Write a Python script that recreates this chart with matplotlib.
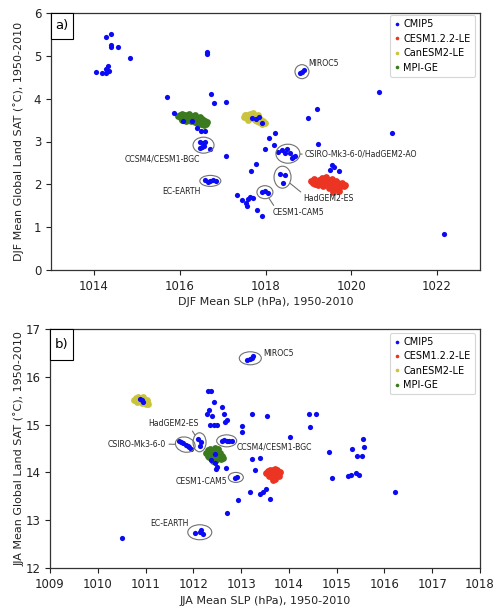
import matplotlib
matplotlib.use('Agg')
import matplotlib.pyplot as plt
from matplotlib.patches import Ellipse, Rectangle
from matplotlib.lines import Line2D
import numpy as np

# ---------------- Panel a (DJF) data: (SLP hPa, SAT degC) ----------------
A_CMIP5_OTHER = [
    (1014.04, 4.63), (1014.18, 4.61), (1014.28, 4.61), (1014.36, 4.65), (1014.34, 4.77), (1014.29, 4.69),
    (1014.28, 5.45), (1014.39, 5.51), (1014.39, 5.26), (1014.39, 5.20), (1014.56, 5.20), (1014.85, 4.94),
    (1015.70, 4.05), (1015.87, 3.66), (1016.07, 3.48), (1016.29, 3.48), (1016.41, 3.32), (1016.50, 3.25),
    (1016.60, 3.25), (1016.63, 5.04), (1016.64, 5.09), (1016.73, 4.10), (1016.81, 3.91), (1017.07, 3.92),
    (1017.08, 2.65), (1017.68, 3.56), (1017.78, 3.52), (1017.84, 3.57), (1017.93, 3.43),
    (1018.21, 3.21), (1018.07, 3.08), (1018.19, 2.91), (1017.99, 2.82), (1017.79, 2.48), (1017.66, 2.30),
    (1019.22, 2.94), (1019.55, 2.44), (1019.51, 2.34), (1019.71, 2.31), (1019.59, 2.41),
    (1017.33, 1.74), (1017.46, 1.64), (1017.54, 1.56), (1017.60, 1.65), (1017.64, 1.70), (1017.71, 1.67),
    (1017.57, 1.50), (1017.80, 1.39), (1017.92, 1.27),
    (1020.64, 4.15), (1019.20, 3.75), (1018.99, 3.54), (1020.95, 3.19), (1022.15, 0.84),
]
A_MIROC5 = [(1018.85, 4.63), (1018.89, 4.66), (1018.81, 4.60)]
A_CCSM4 = [(1016.48, 3.00), (1016.55, 2.96), (1016.51, 2.88), (1016.47, 2.85), (1016.57, 2.90),
           (1016.71, 2.83), (1016.60, 2.98)]
A_ECEARTH = [(1016.59, 2.09), (1016.70, 2.07), (1016.78, 2.10), (1016.85, 2.08), (1016.65, 2.06)]
A_CSIRO = [(1018.30, 2.76), (1018.38, 2.80), (1018.46, 2.72), (1018.50, 2.82), (1018.58, 2.72),
           (1018.65, 2.64), (1018.69, 2.65), (1018.62, 2.61)]
A_HADGEM2ES = [(1018.33, 2.24), (1018.46, 2.22), (1018.40, 2.04)]
A_CESM1CAM5 = [(1017.92, 1.81), (1017.99, 1.85), (1018.05, 1.79)]

A_CESM122LE = [
    (1019.05, 2.08), (1019.10, 2.02), (1019.12, 2.12), (1019.18, 2.05), (1019.22, 1.98), (1019.25, 2.10),
    (1019.28, 2.03), (1019.32, 2.15), (1019.35, 1.95), (1019.38, 2.07), (1019.40, 2.00), (1019.42, 2.18),
    (1019.45, 2.10), (1019.48, 1.92), (1019.50, 2.03), (1019.52, 1.97), (1019.55, 2.12), (1019.58, 2.05),
    (1019.60, 1.88), (1019.62, 1.98), (1019.65, 2.08), (1019.68, 1.93), (1019.70, 2.02), (1019.72, 1.85),
    (1019.75, 1.97), (1019.78, 2.04), (1019.82, 1.95), (1019.86, 1.98), (1019.30, 2.06), (1019.45, 2.03),
    (1019.58, 1.82), (1019.15, 2.00), (1019.36, 2.12), (1019.52, 2.08), (1019.64, 2.02), (1019.40, 2.04),
]
A_CANESM2LE = [
    (1017.50, 3.58), (1017.55, 3.62), (1017.58, 3.55), (1017.62, 3.60), (1017.65, 3.64), (1017.68, 3.54),
    (1017.72, 3.60), (1017.75, 3.50), (1017.78, 3.58), (1017.80, 3.47), (1017.83, 3.55), (1017.86, 3.45),
    (1017.88, 3.52), (1017.92, 3.42), (1017.95, 3.48), (1017.98, 3.44), (1017.60, 3.50), (1017.70, 3.66),
    (1017.82, 3.62), (1017.52, 3.63),
]
A_MPIGE = [
    (1015.95, 3.60), (1016.00, 3.62), (1016.02, 3.55), (1016.05, 3.65), (1016.08, 3.58), (1016.10, 3.52),
    (1016.12, 3.63), (1016.15, 3.56), (1016.18, 3.60), (1016.20, 3.50), (1016.22, 3.64), (1016.25, 3.55),
    (1016.27, 3.47), (1016.30, 3.60), (1016.32, 3.52), (1016.35, 3.45), (1016.37, 3.57), (1016.40, 3.50),
    (1016.42, 3.42), (1016.45, 3.55), (1016.47, 3.47), (1016.50, 3.40), (1016.52, 3.52), (1016.55, 3.45),
    (1016.57, 3.38), (1016.60, 3.48), (1016.62, 3.42), (1016.64, 3.45), (1016.15, 3.48), (1016.35, 3.62),
    (1016.48, 3.58), (1016.05, 3.50), (1016.28, 3.54), (1016.42, 3.52), (1016.10, 3.60), (1016.55, 3.50),
]

# ---------------- Panel b (JJA) data ----------------
B_CMIP5_OTHER = [
    (1010.92, 15.51), (1010.95, 15.48), (1010.89, 15.53),
    (1012.31, 15.71), (1012.36, 15.70), (1012.44, 15.48), (1012.61, 15.37), (1012.33, 15.31),
    (1012.29, 15.22), (1012.40, 15.18), (1012.64, 15.22), (1012.70, 15.10), (1012.66, 15.05),
    (1012.35, 14.99), (1012.43, 14.99), (1012.49, 14.99), (1013.02, 14.98), (1013.01, 14.85),
    (1013.23, 15.22), (1013.55, 15.17), (1014.02, 14.75), (1014.42, 15.22), (1014.56, 15.22),
    (1014.45, 14.94), (1013.22, 14.29), (1013.39, 14.31), (1013.29, 14.05),
    (1012.45, 14.38), (1012.38, 14.26), (1012.45, 14.19), (1012.50, 14.12), (1012.68, 14.10), (1012.48, 14.08),
    (1010.50, 12.62), (1012.71, 13.16), (1012.93, 13.42), (1013.18, 13.58),
    (1014.84, 14.42), (1015.32, 14.48), (1015.42, 14.35), (1015.52, 14.35), (1015.55, 14.69), (1015.57, 14.53),
    (1014.91, 13.88), (1015.24, 13.92), (1015.29, 13.95), (1015.40, 13.98), (1015.47, 13.95), (1016.23, 13.60),
    (1013.53, 13.65), (1013.39, 13.55), (1013.45, 13.58), (1013.60, 13.44),
]
B_MIROC5 = [(1013.12, 16.35), (1013.22, 16.39), (1013.25, 16.44), (1013.18, 16.37)]
B_CSIRO = [(1011.70, 14.66), (1011.78, 14.62), (1011.85, 14.57), (1011.91, 14.53), (1011.96, 14.50),
           (1011.74, 14.64), (1011.88, 14.55)]
B_HADGEM2ES = [(1012.10, 14.70), (1012.15, 14.64), (1012.14, 14.55)]
B_CCSM4 = [(1012.59, 14.66), (1012.70, 14.66), (1012.80, 14.66), (1012.65, 14.67), (1012.75, 14.65)]
B_CESM1CAM5 = [(1012.87, 13.88), (1012.91, 13.91)]
B_ECEARTH = [(1012.03, 12.73), (1012.14, 12.76), (1012.21, 12.71), (1012.16, 12.79)]

B_CESM122LE = [
    (1013.53, 13.98), (1013.56, 14.03), (1013.58, 13.93), (1013.60, 14.06), (1013.62, 13.99), (1013.64, 13.90),
    (1013.66, 14.04), (1013.68, 13.96), (1013.70, 13.87), (1013.72, 14.02), (1013.74, 13.95), (1013.76, 14.05),
    (1013.78, 13.98), (1013.80, 13.93), (1013.82, 14.00), (1013.60, 13.97), (1013.70, 14.08), (1013.67, 13.85),
]
B_CANESM2LE = [
    (1010.76, 15.52), (1010.80, 15.56), (1010.82, 15.48), (1010.85, 15.58), (1010.88, 15.50), (1010.90, 15.55),
    (1010.92, 15.45), (1010.95, 15.52), (1010.98, 15.47), (1011.00, 15.43), (1011.03, 15.48), (1011.06, 15.44),
    (1010.86, 15.54), (1010.94, 15.57), (1011.02, 15.52),
]
B_MPIGE = [
    (1012.27, 14.40), (1012.30, 14.47), (1012.32, 14.33), (1012.35, 14.50), (1012.38, 14.42), (1012.40, 14.28),
    (1012.42, 14.47), (1012.45, 14.36), (1012.47, 14.25), (1012.50, 14.44), (1012.52, 14.32), (1012.55, 14.40),
    (1012.57, 14.27), (1012.60, 14.35), (1012.62, 14.30), (1012.35, 14.38), (1012.45, 14.52), (1012.52, 14.48),
    (1012.30, 14.35), (1012.42, 14.23),
]

LEGEND_LABELS = ['CMIP5', 'CESM1.2.2-LE', 'CanESM2-LE', 'MPI-GE']
A_XTICKS = [1014, 1016, 1018, 1020, 1022]
A_YTICKS = [0, 1, 2, 3, 4, 5, 6]
B_XTICKS = [1009, 1010, 1011, 1012, 1013, 1014, 1015, 1016, 1017, 1018]
B_YTICKS = [12, 13, 14, 15, 16, 17]

# ---------------- styling ----------------
C_BLUE = '#0a0af5'
C_RED = '#ec3423'
C_YEL = '#c9c43c'
C_GRN = '#3b7a1f'
ELL_COL = '#707070'
FS_TICK = 8.5
FS_LAB = 8
FS_ANN = 5.6

W, H, DPI = 4.95, 6.08, 100
fig = plt.figure(figsize=(W, H), dpi=DPI)

def px_axes(l, t, r, b):
    return [l / 495, 1 - b / 608, (r - l) / 495, (b - t) / 608]

ax_a = fig.add_axes(px_axes(51, 13, 480, 270))
ax_b = fig.add_axes(px_axes(50, 329, 480, 568))


def arr(pts):
    a = np.array(pts)
    return a[:, 0], a[:, 1]


def draw_panel(ax, groups_blue, red, yel, grn, xlim, ylim, xticks, yticks, xlabel, ylabel,
               panel_label, box_px, xlab_y, ylab_x, legend_anchor):
    ax.set_xlim(*xlim)
    ax.set_ylim(*ylim)
    for pts, col in ((red, C_RED), (yel, C_YEL), (grn, C_GRN)):
        x, y = arr(pts)
        ax.scatter(x, y, s=24, c=col, linewidths=0, zorder=2)
    allblue = [p for g in groups_blue for p in g]
    x, y = arr(allblue)
    ax.scatter(x, y, s=14, c=C_BLUE, linewidths=0, zorder=3)

    ax.set_xticks(xticks)
    ax.set_yticks(yticks)
    ax.tick_params(direction='out', length=3.5, width=0.8, labelsize=FS_TICK, colors='#222222')
    for s in ax.spines.values():
        s.set_linewidth(0.9)
        s.set_color('#333333')
    ax.set_xlabel(xlabel, fontsize=FS_LAB, color='#222222')
    ax.set_ylabel(ylabel, fontsize=FS_LAB, color='#222222')
    ax.xaxis.set_label_coords(0.5, xlab_y)
    ax.yaxis.set_label_coords(ylab_x, 0.5)

    # panel label box
    bw, bh = box_px
    bbox = ax.get_position()
    axw = bbox.width * W * DPI
    axh = bbox.height * H * DPI
    rw, rh = bw / axw, bh / axh
    ax.add_patch(Rectangle((0, 1 - rh), rw, rh, transform=ax.transAxes, fc='white', ec='black',
                           lw=0.8, zorder=5, clip_on=False))
    ax.text(rw / 2, 1 - rh / 2, panel_label, transform=ax.transAxes, ha='center', va='center',
            fontsize=9.5, zorder=6)

    handles = [Line2D([], [], marker='o', ls='none', ms=2.6, mec='none', mfc=c)
               for c in (C_BLUE, C_RED, C_YEL, C_GRN)]
    leg = ax.legend(handles, LEGEND_LABELS, loc='upper right', bbox_to_anchor=legend_anchor,
                    fontsize=7, handlelength=0.5, handletextpad=0.4, borderpad=0.45,
                    labelspacing=0.45, frameon=True, fancybox=True, borderaxespad=0)
    leg.get_frame().set_edgecolor('#cccccc')
    leg.get_frame().set_linewidth(0.8)
    return axw / (xlim[1] - xlim[0]), axh / (ylim[1] - ylim[0])


def annotate(ax, scale, pts, text, ell_px, off_px, ha, va, line=False, relpos=(0.5, 0.5), angle=0):
    sx, sy = scale
    x, y = arr(pts)
    cx, cy = x.mean(), y.mean()
    ell = Ellipse((cx, cy), ell_px[0] / sx, ell_px[1] / sy, angle=angle, fill=False,
                  ec=ELL_COL, lw=0.8, zorder=4)
    ax.add_patch(ell)
    kw = {}
    if line:
        kw['arrowprops'] = dict(arrowstyle='-', color=ELL_COL, lw=0.8, patchB=ell,
                                shrinkA=0, shrinkB=0, relpos=relpos)
    ax.annotate(text, xy=(cx, cy), xytext=(off_px[0] * 0.72, off_px[1] * 0.72),
                textcoords='offset points', ha=ha, va=va, fontsize=FS_ANN, color='#222222',
                zorder=6, **kw)


sc_a = draw_panel(ax_a, [A_CMIP5_OTHER, A_MIROC5, A_CCSM4, A_ECEARTH, A_CSIRO, A_HADGEM2ES, A_CESM1CAM5],
                  A_CESM122LE, A_CANESM2LE, A_MPIGE, (1013, 1023), (0, 6), A_XTICKS, A_YTICKS,
                  'DJF Mean SLP (hPa), 1950-2010', 'DJF Mean Global Land SAT (˚C), 1950-2010',
                  'a)', (22, 26), -0.105, -0.063, (0.988, 0.992))
sc_b = draw_panel(ax_b, [B_CMIP5_OTHER, B_MIROC5, B_CSIRO, B_HADGEM2ES, B_CCSM4, B_CESM1CAM5, B_ECEARTH],
                  B_CESM122LE, B_CANESM2LE, B_MPIGE, (1009, 1018), (12, 17), B_XTICKS, B_YTICKS,
                  'JJA Mean SLP (hPa), 1950-2010', 'JJA Mean Global Land SAT (˚C), 1950-2010',
                  'b)', (23, 31), -0.117, -0.060, (0.988, 0.985))

# panel a annotations
annotate(ax_a, sc_a, A_MIROC5, 'MIROC5', (14, 14), (6, 4), 'left', 'bottom')
annotate(ax_a, sc_a, A_CCSM4, 'CCSM4/CESM1-BGC', (21, 16), (-41, -13.5), 'center', 'center')
annotate(ax_a, sc_a, A_ECEARTH, 'EC-EARTH', (21, 11), (-28.5, -11), 'center', 'center')
annotate(ax_a, sc_a, A_CSIRO, 'CSIRO-Mk3-6-0/HadGEM2-AO', (24, 19), (17, -0.5), 'left', 'center',
         line=True, relpos=(0, 0.5))
annotate(ax_a, sc_a, A_HADGEM2ES, 'HadGEM2-ES', (17, 22), (21, -21.5), 'left', 'center',
         line=True, relpos=(0, 1))
annotate(ax_a, sc_a, A_CESM1CAM5, 'CESM1-CAM5', (16, 13), (8, -20.5), 'left', 'center',
         line=True, relpos=(0.05, 1))

# panel b annotations
annotate(ax_b, sc_b, B_MIROC5, 'MIROC5', (22, 13), (13, 4.5), 'left', 'center')
annotate(ax_b, sc_b, B_CSIRO, 'CSIRO-Mk3-6-0', (20, 15), (-19, 0.5), 'right', 'center',
         line=True, relpos=(1, 0.5), angle=-15)
annotate(ax_b, sc_b, B_HADGEM2ES, 'HadGEM2-ES', (13, 19), (-26.5, 18.5), 'center', 'center',
         line=True, relpos=(0.85, 0))
annotate(ax_b, sc_b, B_CCSM4, 'CCSM4/CESM1-BGC', (20, 12), (10, -6), 'left', 'center')
annotate(ax_b, sc_b, B_CESM1CAM5, 'CESM1-CAM5', (15, 10), (-8.5, -4.5), 'right', 'center')
annotate(ax_b, sc_b, B_ECEARTH, 'EC-EARTH', (24, 15), (-30, 9), 'center', 'center')

fig.savefig('out.png', dpi=DPI)
